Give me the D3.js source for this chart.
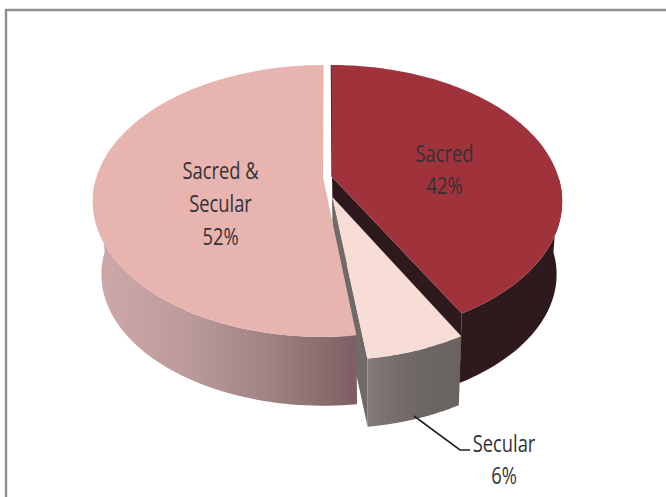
<!DOCTYPE html>
<html>
<head>
<meta charset="utf-8">
<script src="https://cdn.jsdelivr.net/npm/d3@7/dist/d3.min.js"></script>
<style>
html,body{margin:0;padding:0;background:#fff;}
svg{display:block;}
text{font-family:"Open Sans",sans-serif;font-size:23.5px;fill:#333336;text-anchor:middle;}
</style>
</head>
<body>
<svg id="chart" width="666" height="497"></svg>
<script>
// Share of works by type, clockwise from twelve o'clock.
const categories = ["Sacred", "Secular", "Sacred & Secular"];
const shares = [42, 6, 52];
const labelLines = [["Sacred", "42%"], ["Secular", "6%"], ["Sacred &", "Secular", "52%"]];
const topColors = ["#a0323c", "#f8dcd6", "#e8b4b0"];

const svg = d3.select("#chart");
const W = 666, H = 497;

// Perspective projection of the tilted disc: upper face, then the smaller lower face.
const cxTop = 327.5, cyTop = 177, cxBottom = 329, cyBottom = 250.7;
const A = 226.4, B = 131.7, k = 0.176, bottomScale = 0.97;

// Each wedge is pulled out of the pie by its own offset, in disc units.
const wedgeOffset = [[0.02, 0], [0.02, 0.147], [-0.02, 0]];
const wedgeRadius = [1, 0.97, 1];

function project(X, Y, level) {
  const d = 1 - k * Y;
  const s = level === 0 ? 1 : bottomScale;
  const x0 = level === 0 ? cxTop : cxBottom;
  const y0 = level === 0 ? cyTop : cyBottom;
  return [x0 + s * A * X / d, y0 + s * B * Y / d];
}

const arcs = d3.pie().sort(null).value(d => d)(shares);
const line = d3.line();

function rimPoint(i, angle, level) {
  const [ox, oy] = wedgeOffset[i];
  const r = wedgeRadius[i];
  return project(r * Math.sin(angle) + ox, -r * Math.cos(angle) + oy, level);
}
function apex(i, level) {
  const [ox, oy] = wedgeOffset[i];
  return project(ox, oy, level);
}
function rimAngles(i) {
  const a = arcs[i];
  const n = 120;
  return d3.range(n + 1).map(j => a.startAngle + (a.endAngle - a.startAngle) * j / n);
}
function rim(i, level) {
  return rimAngles(i).map(t => rimPoint(i, t, level));
}
const closed = pts => line(pts) + "Z";

// Outer wall as a run of small quads over the front half of the rim only,
// so its outline follows the silhouette and nothing peeks out behind the top.
function wall(i) {
  const front = rimAngles(i).filter(t => Math.cos(t) < 0);
  return d3.range(front.length - 1)
    .map(j => closed([
      rimPoint(i, front[j], 0), rimPoint(i, front[j + 1], 0),
      rimPoint(i, front[j + 1], 1), rimPoint(i, front[j], 1)
    ]))
    .join("");
}

// Shaded side gradients
const defs = svg.append("defs");
function gradient(id, x1, x2, stops) {
  const g = defs.append("linearGradient").attr("id", id)
    .attr("gradientUnits", "userSpaceOnUse")
    .attr("x1", x1).attr("x2", x2).attr("y1", 0).attr("y2", 0);
  stops.forEach(([o, c]) => g.append("stop").attr("offset", o).attr("stop-color", c));
}
gradient("sideBlend", 93, 356, [[0, "#cfa9a9"], [0.35, "#bd9b9b"], [0.7, "#9c8080"], [1, "#7c5f62"]]);
gradient("sideSecular", 366, 460, [[0, "#837a7a"], [0.5, "#6f6865"], [1, "#686361"]]);

svg.append("rect").attr("width", W).attr("height", H).attr("fill", "#fff");

// Chart frame: only the top and left edges fall inside the page
svg.append("path")
  .attr("d", line([[6, H], [6, 10], [W, 10]]))
  .attr("fill", "none").attr("stroke", "#8e8e8e").attr("stroke-width", 2.4);

const SACRED = 0, SECULAR = 1, BLEND = 2;
const wallDark = "#2e1a1c";

// Sacred wedge: rim wall, cut faces and top
svg.append("path").attr("d", wall(SACRED)).attr("fill", wallDark);
svg.append("path")
  .attr("d", closed([apex(SACRED, 0), rimPoint(SACRED, arcs[SACRED].endAngle, 0),
    rimPoint(SACRED, arcs[SACRED].endAngle, 1), apex(SACRED, 1)]))
  .attr("fill", wallDark);
svg.append("path")
  .attr("d", line([rimPoint(SACRED, 0, 0), apex(SACRED, 0)]))
  .attr("fill", "none").attr("stroke", wallDark).attr("stroke-width", 1.2);
svg.append("path")
  .attr("d", closed([apex(SACRED, 0)].concat(rim(SACRED, 0))))
  .attr("fill", topColors[SACRED]);

// Secular wedge: inner cut face shows through the gap
svg.append("path")
  .attr("d", closed([apex(SECULAR, 0), rimPoint(SECULAR, arcs[SECULAR].endAngle, 0),
    rimPoint(SECULAR, arcs[SECULAR].endAngle, 1), apex(SECULAR, 1)]))
  .attr("fill", "#6f6a68");

// Sacred & Secular wedge
svg.append("path").attr("d", wall(BLEND)).attr("fill", "url(#sideBlend)");
svg.append("path")
  .attr("d", closed([apex(BLEND, 0)].concat(rim(BLEND, 0))))
  .attr("fill", topColors[BLEND]);

// Secular wedge: rim wall and top
svg.append("path").attr("d", wall(SECULAR)).attr("fill", "url(#sideSecular)");
svg.append("path")
  .attr("d", closed([apex(SECULAR, 0)].concat(rim(SECULAR, 0))))
  .attr("fill", topColors[SECULAR]);

// Leader from the Secular wedge to its label
svg.append("path")
  .attr("d", line([[414, 416], [460, 450], [470, 450]]))
  .attr("fill", "none").attr("stroke", "#222").attr("stroke-width", 1.6);

// Labels, drawn narrow
const labelAnchors = [[444.5, 161.5], [504, 451.5], [220.5, 179]];
const lineSteps = [32.5, 32.5, 33];
const narrow = 0.78;
labelLines.forEach((lines, i) => {
  lines.forEach((t, j) => {
    svg.append("text")
      .attr("transform", `translate(${labelAnchors[i][0]},${labelAnchors[i][1] + j * lineSteps[i]}) scale(${narrow},1)`)
      .text(t);
  });
});
</script>
</body>
</html>
